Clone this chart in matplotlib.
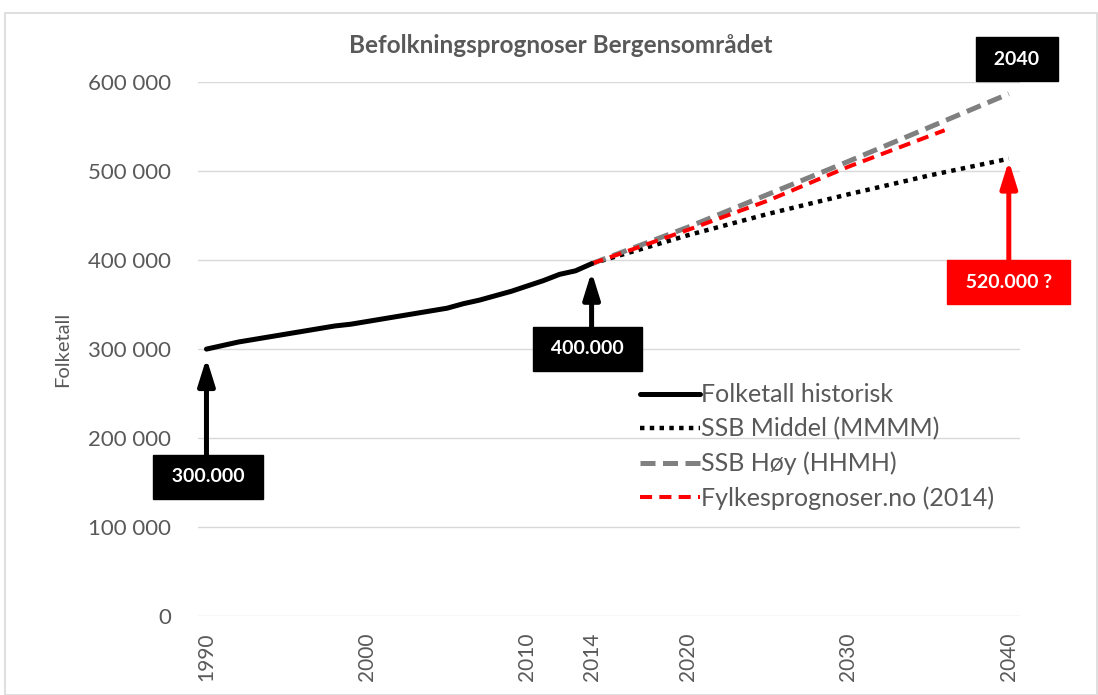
''' Befolkningsprognoser Bergensområdet - historical population and forecasts. '''

import matplotlib.pyplot as plt
from matplotlib.patches import Rectangle
from matplotlib.ticker import FuncFormatter

plt.rcParams['font.family'] = ['Lato', 'DejaVu Sans']

# Historical population
hist_years = list(range(1990, 2015))
hist_pop = [300000, 304000, 308000, 311000, 314000, 317000, 320000, 323000,
            326000, 328000, 331000, 334000, 337000, 340000, 343000, 346000,
            351000, 355000, 360000, 365000, 371000, 377000, 384000, 388000,
            396000]

# Forecasts
proj_years = [2014, 2020, 2025, 2030, 2035, 2040]
ssb_middel = [396000, 428000, 452000, 474000, 495000, 514000]
ssb_hoy = [396000, 437000, 474000, 511000, 549000, 587000]
fylke_years = [2014, 2020, 2025, 2030, 2036]
fylke = [396000, 434000, 467000, 505000, 546000]

xticks = [1990, 2000, 2010, 2014, 2020, 2030, 2040]
yticks = [0, 100000, 200000, 300000, 400000, 500000, 600000]

GRAY_TXT = '#595959'

fig = plt.figure(figsize=(10.98, 6.95), dpi=100)
ax = fig.add_axes([0.180, 0.1137, 0.749, 0.768])

# chart border like an Excel chart area
fig.patches.append(Rectangle((0.005, 0.0), 0.994, 0.982, transform=fig.transFigure,
                             fill=False, edgecolor='#d9d9d9', lw=1.2))

ax.plot(hist_years, hist_pop, color='black', lw=3.6, solid_capstyle='round',
        label='Folketall historisk', zorder=5)
ax.plot(proj_years, ssb_middel, color='black', lw=3.2, linestyle=(0, (1, 1.2)),
        dash_capstyle='butt', label='SSB Middel (MMMM)', zorder=3)
ax.plot(proj_years, ssb_hoy, color='#808080', lw=3.6, linestyle=(0, (3, 1.5)),
        dash_capstyle='butt', label='SSB Høy (HHMH)', zorder=3)
ax.plot(fylke_years, fylke, color='#ff0000', lw=2.9, linestyle=(0, (3, 1.8)),
        dash_capstyle='butt', label='Fylkesprognoser.no (2014)', zorder=4)

ax.set_xlim(1989.45, 2040.7)
ax.set_ylim(0, 600000)
ax.set_xticks(xticks)
ax.set_xticklabels([str(y) for y in xticks], rotation=90, fontsize=15, color=GRAY_TXT)
ax.set_yticks(yticks)
ax.yaxis.set_major_formatter(FuncFormatter(lambda v, pos: '{:,}'.format(int(v)).replace(',', ' ')))
ax.tick_params(axis='y', length=0, pad=19, labelsize=16, labelcolor=GRAY_TXT)
ax.tick_params(axis='x', length=0, pad=12)
ax.grid(axis='y', color='#d9d9d9', lw=1)
ax.set_axisbelow(True)
for s in ax.spines.values():
    s.set_visible(False)

ax.set_ylabel('Folketall', fontsize=14.5, color=GRAY_TXT, labelpad=12)
fig.text(0.511, 0.935, 'Befolkningsprognoser Bergensområdet', ha='center', va='center',
         fontsize=17.5, fontweight='bold', color=GRAY_TXT)


# Label boxes and arrows
def label_box(text, xy, color):
    ax.text(xy[0], xy[1], ' ' + text + ' ', ha='center', va='center', fontsize=14,
            fontweight='bold', color='white', clip_on=False, zorder=7,
            bbox=dict(boxstyle='square,pad=0.7', fc=color, ec=color))


def arrow(tip, tail, color):
    ax.annotate('', xy=tip, xytext=tail, annotation_clip=False, zorder=6,
                arrowprops=dict(arrowstyle='-|>,head_length=1.6,head_width=0.5',
                                mutation_scale=10, color=color, lw=3.6,
                                shrinkA=0, shrinkB=0))


arrow((1990, 290000), (1990, 180000), 'black')
label_box('300.000', (1990.1, 156500), 'black')
arrow((2014, 387000), (2014, 322000), 'black')
label_box('400.000', (2013.75, 300500), 'black')
arrow((2040, 512000), (2040, 398000), '#ff0000')
label_box('520.000 ?', (2040.0, 375300), '#ff0000')
label_box('2040', (2040.5, 625800), 'black')

leg = ax.legend(loc='upper left', bbox_to_anchor=(617 / 1098, 1 - 361 / 695),
                bbox_transform=fig.transFigure, frameon=False, fontsize=18,
                handlelength=2.4, handletextpad=0.05, labelspacing=0.44)
for t in leg.get_texts():
    t.set_color(GRAY_TXT)

fig.savefig('out.png', dpi=100)
